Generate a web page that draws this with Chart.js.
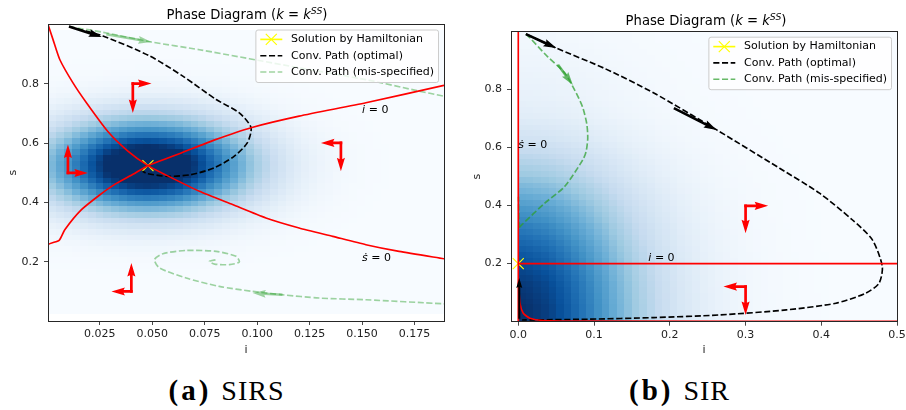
<!DOCTYPE html>
<html>
<head>
<meta charset="utf-8">
<script src="https://cdn.jsdelivr.net/npm/chart.js@4.4.1/dist/chart.umd.min.js"></script>
<style>
  body { margin: 0; width: 906px; height: 410px; background: #fff; position: relative; overflow: hidden; font-family: "DejaVu Sans"; }
  .panel { position: absolute; top: 0; width: 453px; height: 360px; }
  .ttl { position: absolute; width: 300px; text-align: center; font-size: 13.2px; line-height: 16px; white-space: nowrap; color: #000; }
  .ttl sup { font-size: 70%; vertical-align: 0; position: relative; top: -0.5em; }
  .cap { position: absolute; top: 374px; width: 453px; text-align: center; font-family: "Liberation Serif"; font-size: 28px; line-height: 32px; letter-spacing: 1px; word-spacing: 2px; color: #000; }
  .cap b { letter-spacing: 3px; font-size: 29px; }
</style>
</head>
<body>
<div class="panel" style="left:0"><canvas id="sirs" width="453" height="360"></canvas></div>
<div class="panel" style="left:453px"><canvas id="sir" width="453" height="360"></canvas></div>
<div class="ttl" style="left:97px;top:6.5px">Phase Diagram (<i>k</i> = <i>k</i><sup><i>SS</i></sup>)</div>
<div class="ttl" style="left:556px;top:12.8px">Phase Diagram (<i>k</i> = <i>k</i><sup><i>SS</i></sup>)</div>
<div class="cap" style="left:0"><b>(a)</b> SIRS</div>
<div class="cap" style="left:453px"><b>(b)</b> SIR</div>
<script>
// ---------- (a) SIRS ----------
const sirsTicksI = [0.025, 0.05, 0.075, 0.1, 0.125, 0.15, 0.175];
const sirsTicksS = [0.2, 0.4, 0.6, 0.8];
// density shading: column weights along i, row weights along s (bottom to top)
const sirsHeatI = [0.42,0.49,0.56,0.64,0.71,0.79,0.86,0.93,0.98,1.03,1.07,1.09,1.10,1.09,1.07,1.04,1.00,0.94,0.88,0.81,
  0.73,0.66,0.58,0.51,0.44,0.37,0.31,0.26,0.21,0.17,0.135,0.107,0.083,0.064,0.048,0.036,0.026,0.019,0.013,0.009,
  0.006,0.004,0.003,0.002,0.001,0,0,0,0,0];
const sirsHeatS = [0,0,0,0,0,0.001,0.002,0.003,0.006,0.011,0.019,0.031,0.050,0.077,0.116,0.168,0.235,0.318,0.417,0.528,
  0.648,0.769,0.882,0.979,1.05,1.09,1.10,1.07,1.00,0.91,0.80,0.68,0.56,0.45,0.35,0.26,0.19,0.13,0.088,0.057,
  0.036,0.022,0.013,0.007,0.004,0.002,0.001,0,0,0];
const sirsNullS = [[0.0004,1.0],[0.0028,0.949],[0.006,0.882],[0.0123,0.803],[0.0187,0.736],[0.0288,0.64],[0.0383,0.574],[0.048,0.524],
  [0.0567,0.492],[0.0725,0.4375],[0.0883,0.3926],[0.1042,0.3476],[0.120,0.3138],[0.136,0.2855],[0.1518,0.2574],[0.1676,0.2348],[0.189,0.210]];
const sirsNullI = [[0.0003,0.205],[0.0004,0.257],[0.0057,0.272],[0.0084,0.308],[0.0161,0.374],[0.025,0.425],[0.032,0.46],[0.0409,0.495],
  [0.048,0.524],[0.0636,0.566],[0.0795,0.61],[0.0971,0.652],[0.120,0.691],[0.1518,0.736],[0.189,0.795]];
const sirsOptimal = [[0.0104,0.993],[0.0266,0.961],[0.0488,0.894],[0.0646,0.826],[0.0805,0.747],[0.0915,0.702],[0.0971,0.652],
  [0.0953,0.6006],[0.089,0.5554],[0.0795,0.5162],[0.0684,0.4936],[0.0573,0.4879],[0.0478,0.497],[0.0454,0.5047]];
const sirsMisTop = [[0.0104,0.993],[0.0264,0.974],[0.0496,0.941],[0.0725,0.915],[0.12,0.854],[0.1518,0.814],[0.1755,0.778],[0.189,0.758],[0.2,0.743]];
const sirsMisSpiral = [[0.2,0.054],[0.189,0.058],[0.1518,0.0716],[0.1295,0.0774],[0.1121,0.0885],[0.0979,0.0997],[0.082,0.1166],
  [0.0662,0.145],[0.0535,0.179],[0.0511,0.207],[0.0551,0.227],[0.0662,0.238],[0.0805,0.2348],[0.090,0.218],[0.0915,0.199],
  [0.0868,0.19],[0.0797,0.192],[0.0773,0.201],[0.0805,0.2068]];
const sirsSolution = [[0.048, 0.524]];
const sirsDirArrows = [[0.0408,0.8008,0.0408,0.7019],[0.0408,0.8008,0.0497,0.8008],
  [0.0099,0.4993,0.0099,0.5949],[0.0099,0.4993,0.0194,0.4993],
  [0.1399,0.6006,0.1304,0.6006],[0.1399,0.6006,0.1399,0.5047],
  [0.0401,0.0996,0.0401,0.1955],[0.0401,0.0996,0.0306,0.0996]];
const sirsPathArrows = [[0.0104,0.993,0.026,0.958]];
const sirsMisArrows = [[0.0282,0.967,0.0496,0.941],[0.1121,0.0885,0.0979,0.0943]];

// ---------- (b) SIR ----------
const sirTicksI = [0, 0.1, 0.2, 0.3, 0.4, 0.5];
const sirTicksS = [0.2, 0.4, 0.6, 0.8];
const sirHeatI = [1.0,0.99,0.97,0.95,0.92,0.88,0.84,0.79,0.74,0.69,0.63,0.58,0.52,0.47,0.42,0.37,0.33,0.29,0.25,0.22,
  0.19,0.16,0.14,0.12,0.10,0.085,0.07,0.06,0.05,0.04,0.033,0.027,0.022,0.018,0.014,0.011,0.009,0.007,0.005,0.004,
  0.003,0.002,0.002,0.001,0.001,0,0,0,0,0];
const sirHeatS = [1.0,1.0,1.0,0.99,0.98,0.97,0.96,0.94,0.92,0.90,0.87,0.85,0.82,0.79,0.76,0.73,0.70,0.66,0.63,0.60,
  0.56,0.52,0.48,0.45,0.41,0.37,0.34,0.31,0.28,0.25,0.22,0.19,0.17,0.15,0.13,0.11,0.10,0.09,0.08,0.075,
  0.07,0.065,0.06,0.055,0.05,0.045,0.04,0.035,0.03,0.03];
const sirNullS = [[0,0],[0,1]];
const sirNullI = [[0,0.2],[0.5,0.2]];
const sirNullLow = [[0.0003,0.138],[0.0022,0.0637],[0.0066,0.029],[0.0153,0.012],[0.032,0.004],[0.1,0.002],[0.5,0.001]];
const sirOptimal = [[0.0101,0.9897],[0.0503,0.9415],[0.1136,0.872],[0.179,0.787],[0.262,0.660],[0.345,0.528],[0.3977,0.4423],
  [0.4413,0.350],[0.4675,0.2816],[0.4806,0.190],[0.4763,0.1325],[0.4587,0.098],[0.4194,0.0637],[0.3539,0.0406],
  [0.2666,0.0234],[0.179,0.0141],[0.0917,0.0086],[0.0176,0.0062],[0.005,0.006]];
const sirMis = [[0.0101,0.9897],[0.0153,0.977],[0.0389,0.9115],[0.0612,0.8565],[0.0743,0.798],[0.0848,0.7395],[0.0905,0.68],
  [0.0917,0.63],[0.0895,0.585],[0.0852,0.557],[0.0612,0.465],[0.035,0.408],[0.0045,0.333],[0.001,0.323]];
const sirMisEdge = [[0.001,0.323],[0.0003,0.43]];
const sirSolution = [[0, 0.2]];
const sirDirArrows = [[0.3001,0.3986,0.3299,0.3986],[0.3001,0.3986,0.3001,0.3046],
  [0.3001,0.1208,0.2709,0.1208],[0.3001,0.1208,0.3001,0.0234]];
const sirPathArrows = [[0.0101,0.9897,0.0503,0.9415],[0.2054,0.735,0.262,0.660]];
const sirRiseArrows = [[0.0013,0.01,0.0013,0.15]];
const sirMisArrows = [[0.0524,0.884,0.0721,0.815]];

// ---------- helpers ----------
const FONT = '"DejaVu Sans"';
const BLUES = [[247,251,255],[222,235,247],[198,219,239],[158,202,225],[107,174,214],[66,146,198],[33,113,181],[8,81,156],[8,48,107]];
function blues(v) {
  v = Math.max(0, Math.min(1, v));
  const t = v * 8, k = Math.min(7, Math.floor(t)), f = t - k;
  const a = BLUES[k], b = BLUES[k + 1];
  return 'rgb(' + a.map((c, j) => Math.round(c + (b[j] - c) * f)).join(',') + ')';
}
const xy = a => a.map(([x, y]) => ({x, y}));
const redLine = pts => ({data: xy(pts), showLine: true, borderColor: '#ff0000', borderWidth: 1.65, pointRadius: 0, tension: 0.2});
const dashLine = (pts, color, label, rank) => ({data: xy(pts), showLine: true, borderColor: color, borderWidth: 1.65,
  borderDash: [6.1, 2.6], pointRadius: 0, tension: 0.25, legendText: label, legendRank: rank});
const solution = pts => ({data: xy(pts), showLine: false, pointStyle: 'crossRot', pointRadius: 7.8, borderColor: '#ffff00',
  borderWidth: 1.2, legendText: 'Solution by Hamiltonian', legendRank: 0, legendKind: 'marker'});

function heatmap(cols, rows, iRange, sRange) {
  return {
    id: 'heat',
    beforeDatasetsDraw(chart) {
      const {ctx, chartArea: ca, scales: {x, y}} = chart;
      const di = (iRange[1] - iRange[0]) / cols.length, ds = (sRange[1] - sRange[0]) / rows.length;
      ctx.save();
      ctx.beginPath(); ctx.rect(ca.left, ca.top, ca.width, ca.height); ctx.clip();
      rows.forEach((rw, r) => {
        const yt = Math.round(y.getPixelForValue(sRange[0] + (r + 1) * ds));
        const yb = Math.round(y.getPixelForValue(sRange[0] + r * ds));
        cols.forEach((cw, c) => {
          const xl = Math.round(x.getPixelForValue(iRange[0] + c * di));
          const xr = Math.round(x.getPixelForValue(iRange[0] + (c + 1) * di));
          ctx.fillStyle = blues(cw * rw);
          ctx.fillRect(xl, yt, xr - xl, yb - yt);
        });
      });
      ctx.restore();
    }
  };
}

function arrow(ctx, x0, y0, x1, y1, w, back) {
  const L = Math.hypot(x1 - x0, y1 - y0);
  const ux = (x1 - x0) / L, uy = (y1 - y0) / L;
  const p = (a, b) => [x0 + ux * a - uy * b, y0 + uy * a + ux * b];
  const hl = 5 * w, hal = 4.5 * w, hw = 1.5 * w, sw = w / 2;
  const pts = [p(-back, sw), p(L - hal, sw), p(L - hl, hw), p(L, 0), p(L - hl, -hw), p(L - hal, -sw), p(-back, -sw)];
  ctx.beginPath();
  pts.forEach(([px, py], k) => k ? ctx.lineTo(px, py) : ctx.moveTo(px, py));
  ctx.closePath();
  ctx.fill();
}

function quivers(sets) {
  return {
    id: 'quivers',
    afterDatasetsDraw(chart) {
      const {ctx, chartArea: ca, scales: {x, y}} = chart;
      ctx.save();
      ctx.beginPath(); ctx.rect(ca.left, ca.top, ca.width, ca.height); ctx.clip();
      sets.forEach(set => {
        ctx.fillStyle = set.color;
        set.arrows.forEach(([i0, s0, i1, s1]) => arrow(ctx, x.getPixelForValue(i0), y.getPixelForValue(s0),
          x.getPixelForValue(i1), y.getPixelForValue(s1), set.width, set.back || 0));
      });
      ctx.restore();
    }
  };
}

function notes(list) {
  return {
    id: 'notes',
    afterDatasetsDraw(chart) {
      const {ctx, scales: {x, y}} = chart;
      ctx.save();
      ctx.fillStyle = '#000';
      ctx.textBaseline = 'alphabetic';
      list.forEach(n => {
        let px = x.getPixelForValue(n.i);
        const py = y.getPixelForValue(n.s);
        ctx.font = 'italic 11px ' + FONT;
        ctx.fillText(n.sym, px, py);
        px += ctx.measureText(n.sym).width;
        ctx.font = '11px ' + FONT;
        ctx.fillText(' = 0', px, py);
      });
      ctx.restore();
    }
  };
}

function drawX(ctx, cx, cy, r) {
  ctx.beginPath();
  ctx.moveTo(cx - r, cy - r); ctx.lineTo(cx + r, cy + r);
  ctx.moveTo(cx - r, cy + r); ctx.lineTo(cx + r, cy - r);
  ctx.stroke();
}

const frameLegend = {
  id: 'frameLegend',
  afterDraw(chart) {
    const {ctx, chartArea: ca} = chart;
    ctx.save();
    const L = Math.floor(ca.left) + 0.5, T = Math.floor(ca.top) + 0.5;
    const R = Math.floor(ca.right) + 0.5, B = Math.floor(ca.bottom) + 0.5;
    ctx.strokeStyle = '#262626';
    ctx.lineWidth = 1;
    ctx.strokeRect(L, T, R - L, B - T);

    const items = chart.data.datasets.filter(d => d.legendText).sort((a, b) => a.legendRank - b.legendRank);
    ctx.font = '11px ' + FONT;
    const tw = Math.max(...items.map(d => ctx.measureText(d.legendText).width));
    const w = 35.2 + tw + 4.4, h = 52.5, rad = 2.2;
    const bx = ca.right - 5.5 - w, by = ca.top + 5.5;
    ctx.beginPath();
    ctx.moveTo(bx + rad, by);
    ctx.arcTo(bx + w, by, bx + w, by + h, rad);
    ctx.arcTo(bx + w, by + h, bx, by + h, rad);
    ctx.arcTo(bx, by + h, bx, by, rad);
    ctx.arcTo(bx, by, bx + w, by, rad);
    ctx.closePath();
    ctx.fillStyle = 'rgba(255,255,255,0.8)';
    ctx.fill();
    ctx.strokeStyle = '#cccccc';
    ctx.stroke();

    items.forEach((d, k) => {
      const yy = by + 9.4 + k * 16.3;
      const h0 = bx + 4.4, h1 = bx + 26.4;
      ctx.save();
      ctx.strokeStyle = d.borderColor;
      ctx.lineWidth = d.legendKind === 'marker' ? 1.65 : d.borderWidth;
      ctx.setLineDash(d.borderDash || []);
      ctx.beginPath(); ctx.moveTo(h0, yy); ctx.lineTo(h1, yy); ctx.stroke();
      if (d.legendKind === 'marker') {
        ctx.lineWidth = 1.2;
        drawX(ctx, (h0 + h1) / 2, yy, 5.5);
      }
      ctx.restore();
      ctx.fillStyle = '#000';
      ctx.textBaseline = 'middle';
      ctx.fillText(d.legendText, bx + 35.2, yy);
    });
    ctx.restore();
  }
};

function axis(range, ticks, digits, size, title, titlePad, isX) {
  return {
    type: 'linear', min: range[0], max: range[1],
    afterBuildTicks: s => { s.ticks = ticks.map(v => ({value: v})); },
    afterFit: s => {
      if (isX) { s.height = size; s.paddingLeft = 0; s.paddingRight = 0; }
      else { s.width = size; s.paddingTop = 0; s.paddingBottom = 0; }
    },
    ticks: {autoSkip: false, maxRotation: 0, padding: isX ? 3 : 5, color: '#222',
      font: {family: 'DejaVu Sans', size: 11}, callback: v => Number(v).toFixed(digits)},
    grid: {drawOnChartArea: false, drawTicks: true, tickLength: 4, color: '#333', tickWidth: 0.9},
    border: {display: false},
    title: {display: true, text: title, color: '#222', font: {family: 'DejaVu Sans', size: 11},
      padding: isX ? {top: 0, bottom: titlePad} : {top: titlePad, bottom: 0}}
  };
}

function phaseChart(id, cfg) {
  return new Chart(document.getElementById(id), {
    type: 'scatter',
    data: {datasets: cfg.datasets},
    options: {
      responsive: false, animation: false, events: [],
      layout: {padding: cfg.padding},
      plugins: {legend: {display: false}, tooltip: {enabled: false}},
      scales: {x: cfg.x, y: cfg.y}
    },
    plugins: [cfg.heat, cfg.quivers, cfg.notes, frameLegend]
  });
}

const greenA = 'rgba(44,160,44,0.45)';
const greenB = 'rgba(44,160,44,0.72)';

phaseChart('sirs', {
  padding: {left: 0, top: 24.5, right: 8, bottom: 0},
  x: axis([0.0004, 0.189], sirsTicksI, 3, 39, 'i', 3.4, true),
  y: axis([0, 1.0], sirsTicksS, 1, 48, 's', 6.4, false),
  datasets: [
    redLine(sirsNullS), redLine(sirsNullI),
    dashLine(sirsMisTop, greenA, 'Conv. Path (mis-specified)', 2),
    dashLine(sirsMisSpiral, greenA),
    dashLine(sirsOptimal, '#000000', 'Conv. Path (optimal)', 1),
    solution(sirsSolution)
  ],
  heat: heatmap(sirsHeatI, sirsHeatS, [0.0004, 0.189], [0.024, 0.98]),
  quivers: quivers([
    {arrows: sirsMisArrows, color: greenA, width: 2.6},
    {arrows: sirsPathArrows, color: '#000', width: 2.6},
    {arrows: sirsDirArrows, color: '#ff0000', width: 2.7, back: 1.35}
  ]),
  notes: notes([{sym: 'i\u0307', i: 0.150, s: 0.70}, {sym: '\u1e61', i: 0.150, s: 0.201}])
});

phaseChart('sir', {
  padding: {left: 0, top: 31.7, right: 6, bottom: 0},
  x: axis([-0.0096, 0.5], sirTicksI, 1, 38.3, 'i', 3.4, true),
  y: axis([0, 0.998], sirTicksS, 1, 58, 's', 17.1, false),
  datasets: [
    redLine(sirNullS), redLine(sirNullI), redLine(sirNullLow),
    dashLine(sirMis, greenB, 'Conv. Path (mis-specified)', 2),
    dashLine(sirMisEdge, greenB),
    dashLine(sirOptimal, '#000000', 'Conv. Path (optimal)', 1),
    solution(sirSolution)
  ],
  heat: heatmap(sirHeatI, sirHeatS, [0, 0.5], [0, 0.998]),
  quivers: quivers([
    {arrows: sirMisArrows, color: greenB, width: 2.6},
    {arrows: sirPathArrows, color: '#000', width: 2.6},
    {arrows: sirRiseArrows, color: '#000', width: 2},
    {arrows: sirDirArrows, color: '#ff0000', width: 2.7, back: 1.35}
  ]),
  notes: notes([{sym: 'i\u0307', i: 0.1717, s: 0.2103}, {sym: '\u1e61', i: 0.0, s: 0.598}])
});
</script>
</body>
</html>
